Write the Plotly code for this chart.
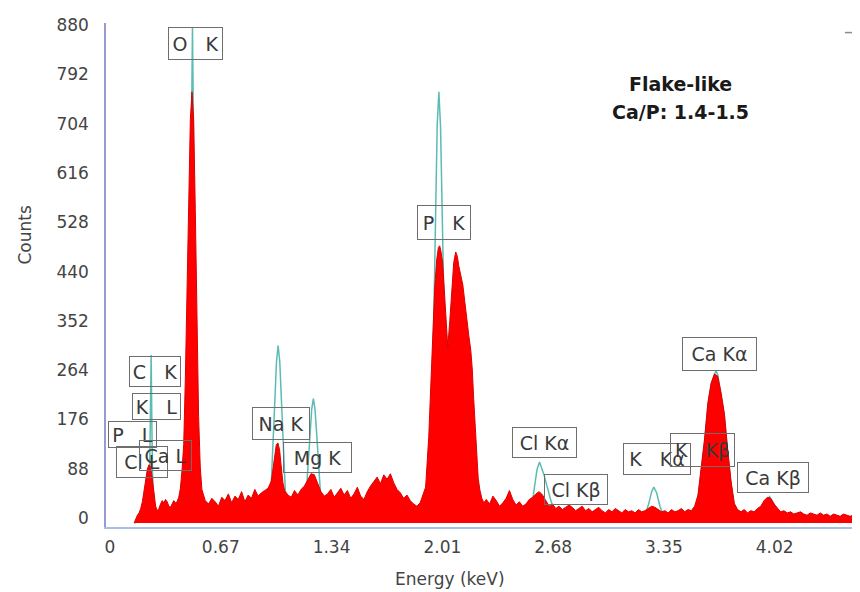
import plotly.graph_objects as go

# ---------------- data ----------------
energy_kev = [
    0.17, 0.18, 0.19, 0.20, 0.21, 0.22, 0.23, 0.24, 0.25, 0.26, 0.27, 0.28, 0.29,
    0.30, 0.31, 0.32, 0.33, 0.34, 0.35, 0.36, 0.37, 0.38, 0.39, 0.40, 0.41, 0.42, 0.43,
    0.44, 0.45, 0.46, 0.47, 0.48, 0.49, 0.50, 0.51, 0.52, 0.53, 0.54, 0.55, 0.56, 0.57,
    0.58, 0.60, 0.62, 0.64, 0.66, 0.68, 0.70, 0.72, 0.74, 0.76, 0.78, 0.80, 0.82, 0.84,
    0.86, 0.88, 0.90, 0.92, 0.94, 0.96, 0.98, 1.00, 1.01, 1.02, 1.03, 1.04, 1.05, 1.06,
    1.07, 1.08, 1.10, 1.12, 1.14, 1.16, 1.18, 1.20, 1.22, 1.24, 1.26, 1.28, 1.30, 1.32,
    1.34, 1.36, 1.38, 1.40, 1.42, 1.44, 1.46, 1.48, 1.50, 1.52, 1.54, 1.56, 1.58, 1.60,
    1.62, 1.64, 1.66, 1.68, 1.70, 1.72, 1.74, 1.76, 1.78, 1.80, 1.82, 1.84, 1.86, 1.88,
    1.90, 1.92, 1.933, 1.952, 1.970, 1.988, 2.000, 2.010, 2.018, 2.026, 2.036, 2.046,
    2.055, 2.067, 2.079, 2.091, 2.103, 2.115, 2.125, 2.133, 2.145, 2.158, 2.170, 2.182,
    2.194, 2.206, 2.215, 2.224, 2.233, 2.242, 2.251, 2.261, 2.273, 2.285, 2.30, 2.32,
    2.34, 2.36, 2.38, 2.40, 2.42, 2.44, 2.46, 2.48, 2.50, 2.52, 2.54, 2.56, 2.58, 2.60,
    2.62, 2.64, 2.66, 2.68, 2.70, 2.72, 2.74, 2.76, 2.78, 2.80, 2.82, 2.84, 2.86, 2.88,
    2.90, 2.92, 2.94, 2.96, 2.98, 3.00, 3.02, 3.04, 3.06, 3.08, 3.10, 3.12, 3.14, 3.16,
    3.18, 3.20, 3.22, 3.24, 3.26, 3.28, 3.30, 3.32, 3.34, 3.36, 3.38, 3.40, 3.42, 3.44,
    3.46, 3.48, 3.50, 3.52, 3.54, 3.56, 3.58, 3.60, 3.62, 3.64, 3.66, 3.68, 3.70, 3.72,
    3.74, 3.76, 3.78, 3.80, 3.82, 3.84, 3.86, 3.88, 3.90, 3.92, 3.94, 3.96, 3.98, 4.00,
    4.02, 4.04, 4.06, 4.08, 4.10, 4.12, 4.14, 4.16, 4.18, 4.20, 4.22, 4.24, 4.26, 4.28,
    4.30, 4.32, 4.34, 4.36, 4.38, 4.40, 4.42, 4.44, 4.46, 4.48, 4.50, 4.52, 4.54, 4.56,
]
spectrum_counts = [
    0, 8, 14, 18, 26, 38, 55, 78, 96, 104, 100, 80, 52,
    30, 22, 26, 34, 40, 36, 42, 38, 30, 28, 34, 40, 36, 38,
    46, 62, 95, 140, 260, 440, 610, 720, 770, 720, 560, 360, 190, 100,
    60, 40, 34, 44, 38, 30, 46, 40, 52, 36, 48, 42, 56, 38,
    50, 44, 60, 48, 54, 58, 62, 75, 100, 125, 140, 143, 130, 100,
    72, 58, 50, 46, 58, 50, 60, 66, 78, 88, 86, 70, 56, 48,
    52, 60, 46, 54, 62, 50, 58, 44, 52, 64, 48, 42, 56, 66,
    74, 82, 70, 86, 78, 88, 72, 60, 54, 44, 50, 40, 34, 30,
    36, 52, 64, 154, 304, 421, 470, 492, 495, 485, 465, 420,
    380, 314, 360, 420, 465, 484, 476, 460, 440, 425, 395, 362,
    335, 309, 275, 220, 165, 112, 80, 59, 44, 36, 42, 34,
    48, 40, 30, 36, 44, 58, 42, 32, 38, 30, 34, 42, 46, 52,
    56, 50, 40, 30, 34, 26, 30, 24, 28, 32, 28, 22, 26, 30,
    22, 26, 20, 24, 28, 22, 18, 24, 20, 26, 22, 18, 24, 20,
    22, 18, 24, 20, 22, 26, 30, 28, 24, 20, 22, 18, 24, 20,
    22, 26, 20, 24, 22, 30, 50, 95, 150, 215, 250, 266, 262, 232,
    195, 130, 75, 35, 24, 20, 24, 18, 22, 20, 26, 30, 40, 46,
    44, 34, 26, 20, 22, 18, 20, 16, 18, 20, 16, 14, 18, 16,
    14, 18, 14, 16, 12, 16, 14, 12, 16, 14, 12, 14, 12, 14,
]

fit_energy_kev = [
    0.17, 0.245, 0.262, 0.268, 0.273, 0.278, 0.284, 0.30,
    0.47, 0.495, 0.505, 0.515, 0.523, 0.531, 0.541, 0.551, 0.58,
    0.60, 0.981, 0.996, 1.011, 1.021, 1.031, 1.041, 1.051, 1.061, 1.071, 1.086, 1.101,
    1.19, 1.209, 1.224, 1.234, 1.244, 1.254, 1.264, 1.274, 1.284, 1.299, 1.32,
    1.938, 1.953, 1.968, 1.983, 1.993, 2.003, 2.013, 2.023, 2.033, 2.043, 2.058, 2.073, 2.09,
    2.55, 2.562, 2.577, 2.592, 2.607, 2.622, 2.637, 2.65, 2.665, 2.68, 2.70, 2.72, 2.78,
    2.815, 2.85,
    3.24, 3.26, 3.28, 3.30, 3.313, 3.33, 3.35, 3.37, 3.39,
    3.56, 3.58, 3.60, 3.62, 3.64, 3.66, 3.68, 3.69, 3.70, 3.72, 3.74, 3.76, 3.78, 3.80, 3.83,
    3.94, 3.97, 3.99, 4.013, 4.04, 4.06, 4.09, 4.56,
]
fit_counts = [
    0, 6, 40, 160, 300, 160, 40, 8,
    8, 40, 200, 640, 885, 640, 200, 40, 8,
    8, 10, 47, 136, 217, 288, 317, 288, 217, 136, 47, 10,
    8, 44, 108, 160, 203, 222, 203, 160, 108, 44, 8,
    8, 43, 154, 375, 560, 710, 770, 710, 560, 375, 154, 43, 8,
    8, 15, 35, 66, 96, 109, 98, 85, 68, 50, 30, 15, 12,
    18, 8,
    8, 14, 32, 56, 64, 54, 30, 14, 8,
    8, 40, 88, 145, 208, 248, 266, 272, 264, 228, 188, 125, 68, 30, 8,
    8, 24, 38, 47, 34, 20, 8, 8,
]

x_tick_values = [0, 0.67, 1.34, 2.01, 2.68, 3.35, 4.02]
x_tick_labels = ["0", "0.67", "1.34", "2.01", "2.68", "3.35", "4.02"]
y_tick_values = [0, 88, 176, 264, 352, 440, 528, 616, 704, 792, 880]
y_tick_labels = ["0", "88", "176", "264", "352", "440", "528", "616", "704", "792", "880"]

peak_labels = ["O\u00a0\u00a0\u00a0K", "C\u00a0\u00a0\u00a0K", "K\u00a0\u00a0\u00a0L", "P\u00a0\u00a0\u00a0L",
               "Cl L", "Ca L", "Na K", "Mg K", "P\u00a0\u00a0\u00a0K", "Cl K\u03b1", "Cl K\u03b2",
               "K\u00a0\u00a0\u00a0K\u03b1", "K\u00a0\u00a0\u00a0K\u03b2", "Ca K\u03b1", "Ca K\u03b2"]

# ---------------- styling / placement ----------------
# label box centres (keV, counts) and box sizes (px)
label_pos = [(0.541, 856), (0.296, 270), (0.305, 208), (0.160, 158), (0.218, 109),
             (0.360, 120), (1.058, 178), (1.279, 117), (2.044, 537), (2.652, 144),
             (2.842, 60), (3.332, 114), (3.607, 130), (3.710, 302), (4.034, 81)]
label_size = [(55, 33), (52, 31), (49, 27), (49, 27), (52, 32), (53, 31), (58, 33),
              (69, 31), (54, 35), (65, 31), (64, 31), (68, 32), (65, 34), (75, 34), (72, 31)]

FONT = "DejaVu Sans"

fig = go.Figure()
fig.add_trace(go.Scatter(
    x=fit_energy_kev, y=fit_counts, mode="lines",
    line=dict(color="#5bbcb4", width=1.5), hoverinfo="skip", showlegend=False))
fig.add_trace(go.Scatter(
    x=energy_kev, y=spectrum_counts, mode="lines", fill="tozeroy",
    fillcolor="#ff0000", line=dict(color="#dd0000", width=1),
    showlegend=False))

annotations = []
for text, (ex, cy), (w, h) in zip(peak_labels, label_pos, label_size):
    annotations.append(dict(
        x=ex, y=cy, xref="x", yref="y", text=text, showarrow=False,
        xanchor="center", yanchor="middle",
        width=w - 2, height=h - 2, align="center", valign="middle",
        bordercolor="#6e6e6e", borderwidth=1, borderpad=0,
        bgcolor="rgba(0,0,0,0)",
        font=dict(family=FONT, size=19, color="#3a3a3a")))

annotations += [
    dict(x=0.762, y=0.879, xref="paper", yref="paper", text="<b>Flake-like</b>",
         xanchor="center", yanchor="middle",
         showarrow=False, font=dict(family=FONT, size=19, color="#1a1a1a")),
    dict(x=0.762, y=0.823, xref="paper", yref="paper", text="<b>Ca/P: 1.4-1.5</b>",
         xanchor="center", yanchor="middle",
         showarrow=False, font=dict(family=FONT, size=19, color="#1a1a1a")),
    dict(x=0.456, y=-0.103, xref="paper", yref="paper", text="Energy (keV)",
         xanchor="center", yanchor="middle",
         showarrow=False, font=dict(family=FONT, size=17, color="#444444")),
    dict(x=-0.107, y=0.579, xref="paper", yref="paper", text="Counts", textangle=-90,
         xanchor="center", yanchor="middle",
         showarrow=False, font=dict(family=FONT, size=17, color="#444444")),
]

# the page body keeps its default 8px margin, so the figure is 8px smaller
fig.update_layout(
    width=852, height=584,
    margin=dict(l=98, r=0, t=15, b=65),
    paper_bgcolor="white", plot_bgcolor="white",
    annotations=annotations,
    shapes=[
        dict(type="line", xref="paper", yref="paper", x0=0.9934, x1=0.9934, y0=1.03, y1=0.981,
             line=dict(color="#8c8c8c", width=2.5)),
        dict(type="line", xref="paper", yref="paper", x0=0.980, x1=0.9934, y0=0.981, y1=0.981,
             line=dict(color="#8c8c8c", width=1.5)),
    ],
    xaxis=dict(range=[0, 4.56], tickvals=x_tick_values, ticktext=x_tick_labels,
               showgrid=False, zeroline=False, showline=True, linecolor="#a6c0e2",
               linewidth=1.5, ticks="", ticklabelstandoff=4, ticklabelshift=4,
               tickfont=dict(family=FONT, size=17, color="#444444")),
    yaxis=dict(range=[-7.14, 892.86], tickvals=y_tick_values, ticktext=y_tick_labels,
               showgrid=False, zeroline=False, showline=True, linecolor="#9a9ad2",
               linewidth=1.5, ticks="", ticklabelstandoff=12, ticklabelshift=-5,
               tickfont=dict(family=FONT, size=17, color="#444444")),
)

fig.write_html("out.html")
